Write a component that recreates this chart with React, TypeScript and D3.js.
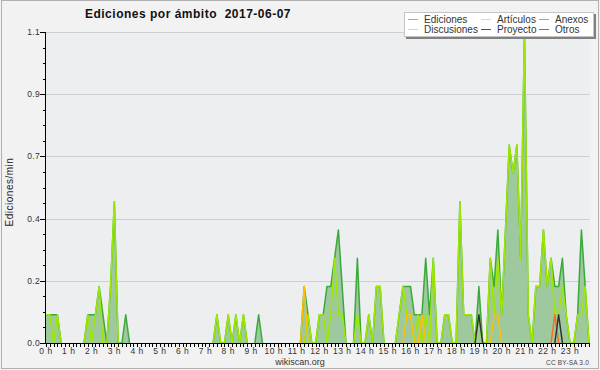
import React from "react";
import * as d3 from "d3";

// 10-minute steps, 00:00 .. 23:50 (144 points), values in edits/min
const hourLabels = d3.range(24).map((h) => `${h} h`);
const yTickValues = [0, 0.22, 0.44, 0.66, 0.88, 1.1];

const ediciones = [
  0.1, 0.1, 0.1, 0.1, 0, 0, 0, 0, 0, 0, 0, 0.1,
  0.1, 0.1, 0.2, 0.1, 0, 0.2, 0.5, 0, 0, 0.1, 0, 0,
  0, 0, 0, 0, 0, 0, 0, 0, 0, 0, 0, 0,
  0, 0, 0, 0, 0, 0, 0, 0, 0, 0.1, 0, 0,
  0.1, 0, 0.1, 0, 0.1, 0, 0, 0, 0.1, 0, 0, 0,
  0, 0, 0, 0, 0, 0, 0, 0, 0.2, 0.1, 0, 0,
  0.1, 0.1, 0.2, 0.2, 0.3, 0.4, 0.2, 0, 0, 0, 0.3, 0,
  0, 0.1, 0, 0.2, 0.2, 0, 0, 0, 0, 0.1, 0.2, 0.2,
  0.2, 0.1, 0.1, 0.1, 0.3, 0.1, 0.3, 0, 0, 0.1, 0.1, 0,
  0, 0.5, 0.1, 0.1, 0.1, 0, 0.2, 0, 0, 0.3, 0.2, 0.4,
  0.1, 0.4, 0.7, 0.6, 0.7, 0.3, 1.1, 0.1, 0, 0.2, 0.2, 0.4,
  0.2, 0.3, 0.2, 0.2, 0.3, 0.1, 0, 0, 0.1, 0.4, 0.2, 0,
];

const articulos = [
  0.1, 0.1, 0, 0.1, 0, 0, 0, 0, 0, 0, 0, 0.1,
  0, 0.1, 0.2, 0, 0, 0.2, 0.5, 0, 0, 0, 0, 0,
  0, 0, 0, 0, 0, 0, 0, 0, 0, 0, 0, 0,
  0, 0, 0, 0, 0, 0, 0, 0, 0, 0.1, 0, 0,
  0.1, 0, 0.1, 0, 0.1, 0, 0, 0, 0, 0, 0, 0,
  0, 0, 0, 0, 0, 0, 0, 0, 0, 0.1, 0, 0,
  0.1, 0.1, 0, 0.1, 0.3, 0.1, 0.1, 0, 0, 0, 0.1, 0,
  0, 0.1, 0, 0.2, 0.2, 0, 0, 0, 0, 0.1, 0.2, 0.1,
  0.1, 0, 0.1, 0, 0.1, 0, 0.3, 0, 0, 0.1, 0.1, 0,
  0, 0.5, 0.1, 0.1, 0.1, 0, 0.1, 0, 0, 0.3, 0.1, 0.3,
  0.1, 0.4, 0.7, 0.6, 0.7, 0.3, 1.1, 0.1, 0, 0.2, 0.2, 0.4,
  0.2, 0.3, 0.1, 0.1, 0.2, 0.1, 0, 0, 0.1, 0.1, 0.2, 0,
];

const anexos = [
  0, 0, 0, 0, 0, 0, 0, 0, 0, 0, 0, 0,
  0, 0, 0, 0, 0, 0, 0, 0, 0, 0, 0, 0,
  0, 0, 0, 0, 0, 0, 0, 0, 0, 0, 0, 0,
  0, 0, 0, 0, 0, 0, 0, 0, 0, 0, 0, 0,
  0, 0, 0, 0, 0, 0, 0, 0, 0, 0, 0, 0,
  0, 0, 0, 0, 0, 0, 0, 0, 0, 0, 0, 0,
  0, 0, 0, 0, 0, 0, 0, 0, 0, 0, 0, 0,
  0, 0, 0, 0, 0, 0, 0, 0, 0, 0, 0, 0,
  0, 0, 0, 0, 0, 0, 0, 0, 0, 0, 0, 0,
  0, 0, 0, 0, 0, 0, 0, 0, 0, 0, 0, 0,
  0, 0, 0, 0, 0, 0, 0, 0, 0, 0, 0, 0,
  0, 0, 0.1, 0, 0, 0, 0, 0, 0, 0, 0, 0,
];

const discusiones = [
  0, 0, 0, 0, 0, 0, 0, 0, 0, 0, 0, 0,
  0, 0, 0, 0, 0, 0, 0, 0, 0, 0, 0, 0,
  0, 0, 0, 0, 0, 0, 0, 0, 0, 0, 0, 0,
  0, 0, 0, 0, 0, 0, 0, 0, 0, 0, 0, 0,
  0, 0, 0, 0, 0, 0, 0, 0, 0, 0, 0, 0,
  0, 0, 0, 0, 0, 0, 0, 0, 0.2, 0, 0, 0,
  0, 0, 0, 0, 0, 0, 0, 0, 0, 0, 0, 0,
  0, 0, 0, 0, 0, 0, 0, 0, 0, 0, 0, 0.1,
  0.1, 0, 0, 0.1, 0, 0, 0, 0, 0, 0, 0, 0,
  0, 0, 0, 0, 0, 0, 0, 0, 0, 0, 0.1, 0.1,
  0, 0, 0, 0, 0, 0, 0, 0, 0, 0, 0, 0,
  0, 0, 0, 0, 0, 0, 0, 0, 0, 0, 0, 0,
];

const proyecto = [
  0, 0, 0, 0, 0, 0, 0, 0, 0, 0, 0, 0,
  0, 0, 0, 0, 0, 0, 0, 0, 0, 0, 0, 0,
  0, 0, 0, 0, 0, 0, 0, 0, 0, 0, 0, 0,
  0, 0, 0, 0, 0, 0, 0, 0, 0, 0, 0, 0,
  0, 0, 0, 0, 0, 0, 0, 0, 0, 0, 0, 0,
  0, 0, 0, 0, 0, 0, 0, 0, 0, 0, 0, 0,
  0, 0, 0, 0, 0, 0, 0, 0, 0, 0, 0, 0,
  0, 0, 0, 0, 0, 0, 0, 0, 0, 0, 0, 0,
  0, 0, 0, 0, 0, 0, 0, 0, 0, 0, 0, 0,
  0, 0, 0, 0, 0, 0, 0.1, 0, 0, 0, 0, 0,
  0, 0, 0, 0, 0, 0, 0, 0, 0, 0, 0, 0,
  0, 0, 0, 0.1, 0, 0, 0, 0, 0, 0, 0, 0,
];

const otros = [
  0, 0, 0, 0, 0, 0, 0, 0, 0, 0, 0, 0,
  0, 0, 0, 0, 0, 0, 0, 0, 0, 0, 0, 0,
  0, 0, 0, 0, 0, 0, 0, 0, 0, 0, 0, 0,
  0, 0, 0, 0, 0, 0, 0, 0, 0, 0, 0, 0,
  0, 0, 0, 0, 0, 0, 0, 0, 0, 0, 0, 0,
  0, 0, 0, 0, 0, 0, 0, 0, 0, 0, 0, 0,
  0, 0, 0, 0, 0, 0, 0, 0, 0, 0, 0, 0,
  0, 0, 0, 0, 0, 0, 0, 0, 0, 0, 0, 0,
  0, 0, 0, 0, 0, 0, 0, 0, 0, 0, 0, 0,
  0, 0, 0, 0, 0, 0, 0, 0, 0, 0, 0, 0,
  0, 0, 0, 0, 0, 0, 0, 0, 0, 0, 0, 0,
  0, 0, 0, 0, 0, 0, 0, 0, 0, 0, 0, 0,
];

const legendItems = [
  { name: "Ediciones", color: "#7fcc7f", col: 0, row: 0 },
  { name: "Artículos", color: "#c8ee6a", col: 1, row: 0 },
  { name: "Anexos", color: "#ff8a50", col: 2, row: 0 },
  { name: "Discusiones", color: "#ffd24a", col: 0, row: 1 },
  { name: "Proyecto", color: "#555555", col: 1, row: 1 },
  { name: "Otros", color: "#9a4cf0", col: 2, row: 1 },
];

const W = 600;
const H = 370;
const PL = 46;
const PR = 589;
const PT = 32;
const PB = 343;

export default function App() {
  const x = d3.scaleLinear().domain([0, ediciones.length - 1]).range([PL, PR]);
  const y = d3.scaleLinear().domain([0, 1.1]).range([PB, PT]);
  const idx = d3.range(ediciones.length);

  const area = d3
    .area<number>()
    .x((i) => x(i))
    .y0(y(0))
    .y1((i) => y(ediciones[i]));
  // flat stretches at zero sit under the axis, so only segments touching a non-zero value are stroked
  const lineOf = (arr: number[]) =>
    d3
      .line<number>()
      .defined((i) => arr[i] > 0 || (arr[i - 1] ?? 0) > 0 || (arr[i + 1] ?? 0) > 0)
      .x((i) => x(i))
      .y((i) => y(arr[i]))(idx) as string;

  const minorY = d3.range(0, 21).map((k) => (k * 1.1) / 20);
  const fmt = d3.format(".1f");
  const font = "'Liberation Sans', Arial, sans-serif";

  const series = [
    { data: articulos, color: "#9fe800" },
    { data: anexos, color: "#ff6a20" },
    { data: discusiones, color: "#ffc000" },
    { data: proyecto, color: "#333333" },
    { data: otros, color: "#8a2be2" },
  ];

  const legendCols = [408, 481, 539];
  const legendRows = [19, 29];

  return (
    <>
      <style>{`body{margin:0;}`}</style>
      <svg width={W} height={H} style={{ display: "block" }}>
        <rect x={0} y={0} width={W} height={H} fill="#f2f2f2" />
        <rect x={1.5} y={0.5} width={W - 3} height={H - 2} fill="none" stroke="#b0b0b0" />
        <rect x={PL} y={PT} width={PR + 1 - PL} height={PB - PT} fill="#eceef0" />

        {/* grid */}
        {yTickValues.map((v) => (
          <line key={"g" + v} x1={PL} x2={PR + 1} y1={Math.round(y(v)) + 0.5} y2={Math.round(y(v)) + 0.5} stroke="#cfcfcf" strokeWidth={1} />
        ))}

        {/* Ediciones area */}
        <path d={area(idx) as string} fill="#9ec89e" />
        <path d={lineOf(ediciones)} fill="none" stroke="#3aaa3a" strokeWidth={1.5} strokeLinejoin="round" />
        {series.map((s, k) => (
          <path key={k} d={lineOf(s.data)} fill="none" stroke={s.color} strokeWidth={1.5} strokeLinejoin="round" />
        ))}

        {/* y axis */}
        <line x1={PL - 0.5} x2={PL - 0.5} y1={PT} y2={PB + 1} stroke="#000" />
        {minorY.map((v, k) => (
          <line key={"my" + k} x1={k % 4 === 0 ? PL - 6 : PL - 3} x2={PL} y1={Math.round(y(v)) + 0.5} y2={Math.round(y(v)) + 0.5} stroke="#000" />
        ))}
        {yTickValues.map((v) => (
          <text key={"yl" + v} x={PL - 6} y={y(v) + 3} textAnchor="end" fontFamily={font} fontSize={8.5} fill="#333" letterSpacing={0.3}>
            {fmt(v)}
          </text>
        ))}

        {/* x axis */}
        <line x1={PL - 1} x2={PR + 1} y1={PB + 0.5} y2={PB + 0.5} stroke="#000" />
        {idx.map((i) => (
          <line key={"xt" + i} x1={Math.round(x(i)) + 0.5} x2={Math.round(x(i)) + 0.5} y1={PB} y2={PB + 4} stroke="#000" />
        ))}
        {hourLabels.map((lab, h) => (
          <text key={lab} x={x(h * 6)} y={PB + 11} textAnchor="middle" fontFamily={font} fontSize={8.5} fill="#333" letterSpacing={0.5}>
            {lab}
          </text>
        ))}

        {/* titles */}
        <text x={188} y={18} textAnchor="middle" fontFamily={font} fontWeight="bold" fontSize={12} fill="#111" letterSpacing={0.5}>
          {"Ediciones por ámbito\u00a0\u00a02017-06-07"}
        </text>
        <text transform={`translate(13,${192}) rotate(-90)`} textAnchor="middle" fontFamily={font} fontSize={10} fill="#222" letterSpacing={0.5}>
          Ediciones/min
        </text>
        <text x={300} y={365} textAnchor="middle" fontFamily={font} fontSize={9} fill="#333">
          wikiscan.org
        </text>
        <text x={589} y={365} textAnchor="end" fontFamily={font} fontSize={6.5} fill="#444" letterSpacing={0.2}>
          CC BY-SA 3.0
        </text>

        {/* legend */}
        <rect x={406} y={14} width={190} height={25} fill="#808080" />
        <rect x={404.5} y={12.5} width={189} height={24} fill="#ffffff" stroke="#c4c4c4" />
        {legendItems.map((it) => (
          <g key={it.name}>
            <line x1={legendCols[it.col]} x2={legendCols[it.col] + 10} y1={legendRows[it.row] + 0.5} y2={legendRows[it.row] + 0.5} stroke={it.color} strokeWidth={1} />
            <text x={legendCols[it.col] + 16} y={legendRows[it.row] + 3.5} fontFamily={font} fontSize={10} fill="#333">
              {it.name}
            </text>
          </g>
        ))}
      </svg>
    </>
  );
}
